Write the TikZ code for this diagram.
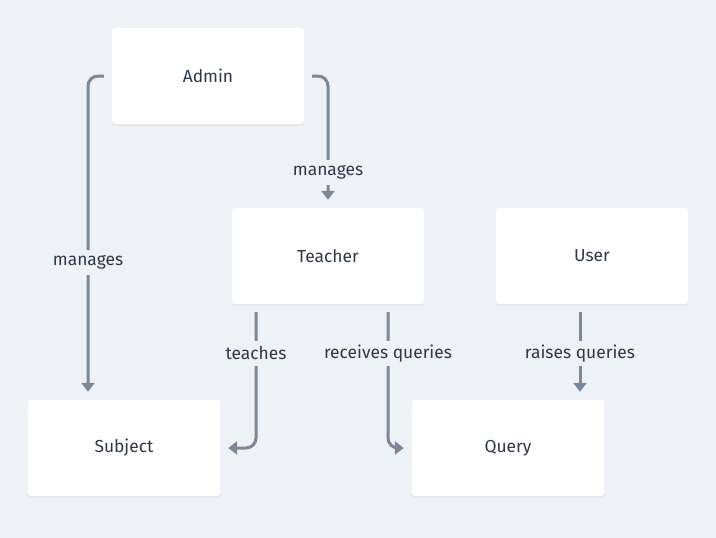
\documentclass[tikz,border=0pt]{standalone}
\usepackage{fontspec}
\setmainfont{Fira Sans}
\usetikzlibrary{arrows.meta,calc,shadows}
\definecolor{bgc}{HTML}{EEF2F6}
\definecolor{linec}{HTML}{7A8898}
\definecolor{textc}{HTML}{2D3848}
\begin{document}
\begin{tikzpicture}[x=1pt,y=-1pt,
  box/.style={fill=white, rounded corners=3pt, minimum width=192pt, minimum height=96pt, inner sep=0pt,
    text=textc, font=\fontsize{17.4}{20}\selectfont,
    drop shadow={shadow xshift=0pt, shadow yshift=-1.5pt, opacity=0.05, fill=black}},
  conn/.style={draw=linec, line width=3pt, rounded corners=10pt, -{Triangle[width=13pt,length=9pt]}},
  lbl/.style={fill=bgc, text=textc, font=\fontsize{17.4}{20}\selectfont, inner xsep=2pt, minimum height=25pt, inner ysep=0pt}]
\fill[bgc] (0,0) rectangle (716,538);
\useasboundingbox (0,0) rectangle (716,538);
\node[box] (admin) at (208,76) {Admin};
\node[box] (teacher) at (328,256) {Teacher};
\node[box] (user) at (592,256) {User};
\node[box] (subject) at (124,448) {Subject};
\node[box] (query) at (508,448) {Query};
\draw[conn] ([xshift=-8pt]admin.west) -| ($(subject.north)+(-36,-8)$);
\draw[conn] ([xshift=8pt]admin.east) -| ($(teacher.north)+(0,-8)$);
\draw[conn] ($(teacher.south)+(-72,8)$) |- ([xshift=8pt]subject.east);
\draw[conn] ($(teacher.south)+(60,8)$) |- ([xshift=-8pt]query.west);
\draw[conn] ($(user.south)+(-12,8)$) -- ($(query.north)+(72,-8)$);
\node[lbl] (l1) at (88,262.5) {manages};
\node[lbl] (l2) at (328,172.5) {manages};
\node[lbl] (l3) at (256,353.5) {teaches};
\node[lbl] (l4) at (388,353.5) {receives queries};
\node[lbl] (l5) at (580,353.5) {raises queries};
\end{tikzpicture}
\end{document}
